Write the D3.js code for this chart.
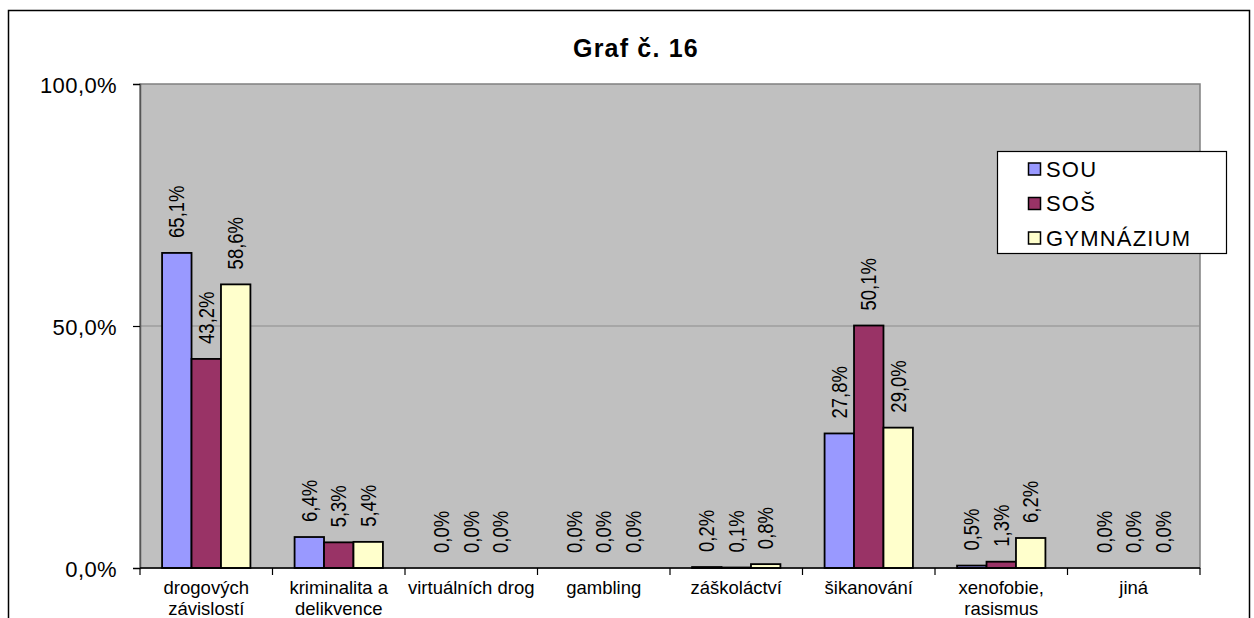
<!DOCTYPE html>
<html>
<head>
<meta charset="utf-8">
<script src="https://cdn.jsdelivr.net/npm/d3@7"></script>
<style>
  html, body { margin: 0; padding: 0; background: #fff; }
  svg { display: block; font-family: "Liberation Sans", Arial, sans-serif; }
</style>
</head>
<body>
<svg id="chart" width="1254" height="618"></svg>
<script>
const categories = [
  ["drogových", "závislostí"],
  ["kriminalita a", "delikvence"],
  ["virtuálních drog"],
  ["gambling"],
  ["záškoláctví"],
  ["šikanování"],
  ["xenofobie,", "rasismus"],
  ["jiná"]
];
const seriesNames = ["SOU", "SOŠ", "GYMNÁZIUM"];
const seriesColors = ["#9999FF", "#993366", "#FFFFCC"];
const valuesSOU = [65.1, 6.4, 0.0, 0.0, 0.2, 27.8, 0.5, 0.0];
const valuesSOS = [43.2, 5.3, 0.0, 0.0, 0.1, 50.1, 1.3, 0.0];
const valuesGYM = [58.6, 5.4, 0.0, 0.0, 0.8, 29.0, 6.2, 0.0];
const yTicks = [0, 50, 100];
const title = "Graf č. 16";

const series = [valuesSOU, valuesSOS, valuesGYM];
const fmt = v => v.toFixed(1).replace(".", ",") + "%";

const svg = d3.select("#chart");
const plot = { left: 140, right: 1200, top: 84, bottom: 568 };

// outer border
svg.append("rect").attr("x", 8.5).attr("y", 10.5).attr("width", 1241).attr("height", 700)
  .attr("fill", "#fff").attr("stroke", "#000").attr("stroke-width", 1.5);

// title
svg.append("text").attr("x", 636).attr("y", 57).attr("text-anchor", "middle")
  .attr("font-size", 25).attr("font-weight", "bold").attr("letter-spacing", 1.2)
  .text(title);

const x = d3.scaleBand().domain(d3.range(categories.length)).range([plot.left, plot.right]).padding(0);
const xs = d3.scaleBand().domain(d3.range(series.length)).range([0, x.bandwidth()]).paddingInner(0).paddingOuter(0.75);
const y = d3.scaleLinear().domain([0, 100]).range([plot.bottom, plot.top]);

// plot background
svg.append("rect").attr("x", plot.left).attr("y", plot.top)
  .attr("width", plot.right - plot.left).attr("height", plot.bottom - plot.top)
  .attr("fill", "#C0C0C0").attr("stroke", "#808080").attr("stroke-width", 1.5);

// gridlines
svg.append("g").selectAll("line").data(yTicks.filter(t => t > 0 && t < 100)).join("line")
  .attr("x1", plot.left).attr("x2", plot.right)
  .attr("y1", d => y(d)).attr("y2", d => y(d))
  .attr("stroke", "#8c8c8c").attr("stroke-width", 1);

// y axis
const yAxis = d3.axisLeft(y).tickValues(yTicks).tickSize(7).tickPadding(16).tickFormat(fmt);
const gy = svg.append("g").attr("transform", `translate(${plot.left},0)`).call(yAxis);
gy.select(".domain").attr("stroke", "#555").attr("stroke-width", 1.5);
gy.selectAll(".tick line").attr("stroke", "#000").attr("stroke-width", 1.2);
gy.selectAll(".tick text").attr("font-size", 22).attr("font-family", "Liberation Sans, Arial, sans-serif")
  .attr("fill", "#000").attr("dy", "0.38em").attr("letter-spacing", 0.4);

// bars
const groups = svg.append("g").selectAll("g").data(series).join("g")
  .attr("fill", (d, i) => seriesColors[i]);
groups.each(function(vals, si) {
  d3.select(this).selectAll("rect").data(vals).join("rect")
    .attr("x", (d, ci) => x(ci) + xs(si))
    .attr("y", d => y(d))
    .attr("width", xs.bandwidth())
    .attr("height", d => y(0) - y(d))
    .attr("stroke", "#000").attr("stroke-width", 1.8);
});

// x axis
const xAxisLine = svg.append("g");
xAxisLine.append("line").attr("x1", plot.left).attr("x2", plot.right)
  .attr("y1", plot.bottom).attr("y2", plot.bottom).attr("stroke", "#000").attr("stroke-width", 1.5);
xAxisLine.selectAll("line.tk").data(d3.range(categories.length + 1)).join("line").attr("class", "tk")
  .attr("x1", i => i < categories.length ? x(i) : plot.right)
  .attr("x2", i => i < categories.length ? x(i) : plot.right)
  .attr("y1", plot.bottom).attr("y2", plot.bottom + 7)
  .attr("stroke", "#000").attr("stroke-width", 1.2);

// category labels
const cl = svg.append("g").selectAll("text").data(categories).join("text")
  .attr("text-anchor", "middle").attr("font-size", 18.5).attr("fill", "#000");
cl.each(function(lines, ci) {
  d3.select(this).selectAll("tspan").data(lines).join("tspan")
    .attr("x", x(ci) + x.bandwidth() / 2)
    .attr("y", (d, li) => 594 + li * 21)
    .text(d => d);
});

// value labels
groups.each(function(vals, si) {
  d3.select(this).selectAll("text").data(vals).join("text")
    .attr("transform", (d, ci) => `translate(${x(ci) + xs(si) + xs.bandwidth() / 2},${y(d) - 15}) rotate(-90) scale(1,1.15)`)
    .attr("dy", "0.36em")
    .attr("text-anchor", "start")
    .attr("font-size", 18.5).attr("fill", "#000")
    .text(d => fmt(d));
});

// legend
const lg = svg.append("g");
lg.append("rect").attr("x", 997.5).attr("y", 151.5).attr("width", 229).attr("height", 102)
  .attr("fill", "#fff").attr("stroke", "#000").attr("stroke-width", 1.2);
const rowY = [169, 203.5, 238];
const items = lg.selectAll("g.it").data(seriesNames).join("g").attr("class", "it")
  .attr("transform", (d, i) => `translate(1028,${rowY[i]})`);
items.append("rect").attr("x", 0.5).attr("y", -6).attr("width", 12).attr("height", 12)
  .attr("fill", (d, i) => seriesColors[i]).attr("stroke", "#000").attr("stroke-width", 1.5);
items.append("text").attr("x", 18).attr("dy", "0.36em")
  .attr("font-size", 22).attr("letter-spacing", 1.2).attr("fill", "#000")
  .text(d => d);
</script>
</body>
</html>
